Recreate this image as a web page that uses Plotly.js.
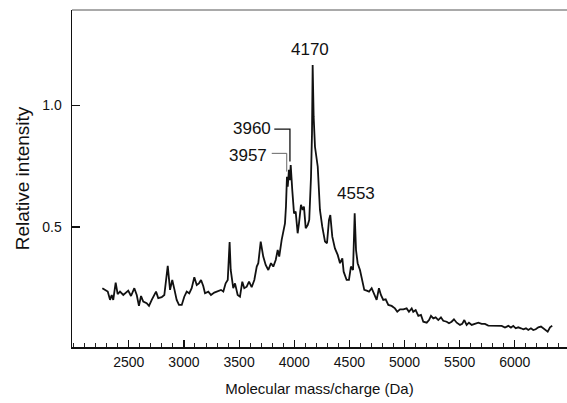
<!DOCTYPE html>
<html>
<head>
<meta charset="utf-8">
<script src="https://cdn.plot.ly/plotly-3.0.1.min.js"></script>
<style>
html,body{margin:0;padding:0;background:#fff;}
#chart{width:567px;height:403px;}
</style>
</head>
<body>
<div id="chart"></div>
<script>
// Molecular mass/charge (Da)
const masses = [2260,2284,2309,2330,2345,2359,2381,2399,2420,2450,2481,2495,2520,2550,2572,2592,2611,2631,2662,2683,
2708,2731,2747,2767,2798,2822,2853,2874,2894,2913,2934,2955,2980,3003,3025,3048,3070,3094,3116,3136,
3155,3175,3191,3221,3245,3275,3306,3336,3357,3378,3397,3414,3424,3433,3447,3463,3487,3508,3529,3547,
3569,3590,3614,3638,3660,3674,3696,3719,3741,3765,3789,3810,3832,3850,3864,3886,3901,3916,3925,3934,
3941,3952,3961,3968,3982,3998,4013,4031,4043,4061,4077,4088,4104,4122,4136,4152,4161,4167,4176,4188,
4213,4233,4254,4279,4297,4315,4327,4345,4369,4394,4415,4436,4448,4475,4496,4514,4533,4548,4560,4575,
4596,4617,4635,4657,4678,4702,4723,4747,4768,4786,4807,4829,4853,4883,4913,4934,4959,4989,5019,5040,
5065,5079,5101,5125,5149,5170,5201,5222,5240,5261,5282,5306,5330,5351,5382,5403,5427,5448,5473,5503,
5523,5542,5563,5584,5609,5639,5669,5699,5729,5759,5790,5820,5850,5881,5911,5941,5965,5986,6008,6031,
6056,6077,6101,6122,6146,6167,6189,6213,6237,6258,6280,6298,6319,6339];

// Relative intensity
const intensity = [0.248,0.241,0.234,0.200,0.220,0.200,0.271,0.224,0.234,0.220,0.234,0.238,0.216,0.248,0.220,0.175,0.216,0.193,0.186,0.175,
0.200,0.220,0.234,0.207,0.211,0.220,0.340,0.241,0.282,0.244,0.200,0.179,0.179,0.213,0.234,0.227,0.248,0.293,0.261,0.268,
0.282,0.257,0.227,0.234,0.220,0.230,0.234,0.241,0.234,0.268,0.282,0.438,0.323,0.282,0.248,0.268,0.220,0.213,0.275,0.248,
0.254,0.275,0.252,0.282,0.337,0.351,0.440,0.378,0.344,0.323,0.351,0.337,0.364,0.405,0.378,0.447,0.488,0.515,0.584,0.707,
0.666,0.735,0.693,0.755,0.652,0.556,0.563,0.474,0.515,0.591,0.570,0.584,0.495,0.508,0.529,0.707,0.886,1.167,0.954,0.830,
0.748,0.570,0.501,0.440,0.433,0.529,0.549,0.460,0.412,0.385,0.351,0.371,0.316,0.282,0.282,0.337,0.323,0.556,0.405,0.351,
0.323,0.282,0.241,0.238,0.234,0.248,0.227,0.200,0.248,0.220,0.200,0.202,0.179,0.175,0.165,0.151,0.161,0.161,0.165,0.151,
0.165,0.151,0.158,0.134,0.138,0.110,0.106,0.117,0.134,0.124,0.128,0.117,0.128,0.114,0.110,0.104,0.110,0.120,0.106,0.097,
0.101,0.117,0.097,0.106,0.097,0.101,0.106,0.101,0.101,0.094,0.093,0.093,0.094,0.093,0.086,0.093,0.086,0.093,0.083,0.087,
0.083,0.079,0.083,0.076,0.083,0.076,0.079,0.087,0.090,0.083,0.073,0.069,0.087,0.093];

// Axis ticks
const xTickVals = [2500,3000,3500,4000,4500,5000,5500,6000];
const xTickText = ['2500','3000','3500','4000','4500','5000','5500','6000'];
const yTickVals = [0.5,1.0];
const yTickText = ['0.5','1.0'];

// Peak labels
const peakLabels = ['4170','3960','3957','4553'];
const peakLabelX = [4143,3617,3578,4560];
const peakLabelY = [1.232,0.906,0.796,0.639];

const FONT = 'Liberation Sans, Arial, Helvetica, sans-serif';

const trace = {
  x: masses, y: intensity, type: 'scatter', mode: 'lines',
  line: {color: '#111', width: 1.8, shape: 'linear'},
  hoverinfo: 'skip', showlegend: false
};

const annotations = peakLabels.map((t, i) => ({
  x: peakLabelX[i], y: peakLabelY[i], xref: 'x', yref: 'y',
  text: t, showarrow: false, xanchor: 'center', yanchor: 'middle',
  font: {family: FONT, size: 17, color: '#111'}
}));

const layout = {
  width: 567, height: 403,
  margin: {l: 72, r: 0, t: 10, b: 56, pad: 0},
  paper_bgcolor: '#fff', plot_bgcolor: '#fff',
  font: {family: FONT, color: '#111'},
  showlegend: false,
  xaxis: {
    range: [1985, 6473], tickmode: 'array', tickvals: xTickVals, ticktext: xTickText,
    ticks: 'inside', ticklen: 7, tickwidth: 1.2, tickcolor: '#111',
    minor: {ticks: 'inside', ticklen: 4, tickwidth: 1, tickcolor: '#222', dtick: 100, tick0: 2000, showgrid: false},
    showline: true, linecolor: '#111', linewidth: 1.5,
    showgrid: false, zeroline: false,
    tickfont: {family: FONT, size: 14, color: '#111'},
    ticklabelstandoff: 2,
    title: {text: 'Molecular mass/charge (Da)', font: {family: FONT, size: 15, color: '#111'}, standoff: 14},
    automargin: false
  },
  yaxis: {
    range: [0.006, 1.393], tickmode: 'array', tickvals: yTickVals, ticktext: yTickText,
    ticks: 'inside', ticklen: 8, tickwidth: 1.2, tickcolor: '#111',
    showline: true, linecolor: '#111', linewidth: 1.5,
    showgrid: false, zeroline: false,
    tickfont: {family: FONT, size: 14, color: '#111'},
    ticklabelstandoff: 6,
    title: {text: 'Relative intensity', font: {family: FONT, size: 19, color: '#111'}, standoff: 7},
    automargin: false
  },
  annotations: annotations,
  shapes: [
    // top frame line
    {type: 'line', xref: 'paper', yref: 'paper', x0: 0, x1: 1, y0: 1, y1: 1, line: {color: '#555', width: 1}},
    // leader for 3960
    {type: 'path', xref: 'x', yref: 'y', path: 'M 3819 0.903 L 3961 0.903 L 3961 0.769', line: {color: '#111', width: 1.3}},
    // leader for 3957
    {type: 'path', xref: 'x', yref: 'y', path: 'M 3796 0.803 L 3932 0.803 L 3932 0.728', line: {color: '#666', width: 1}}
  ]
};

Plotly.newPlot('chart', [trace], layout, {staticPlot: true, displayModeBar: false});
</script>
</body>
</html>
